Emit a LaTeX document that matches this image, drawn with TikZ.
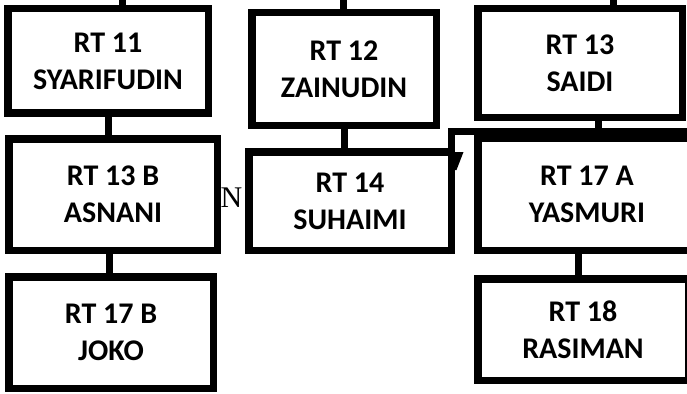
\documentclass[tikz,border=0pt]{standalone}
\usepackage{fontspec}
\setmainfont{Carlito}
\newfontfamily\serifN{Liberation Serif}
\begin{document}
\begin{tikzpicture}[x=1pt,y=-1pt,
  rtbox/.style={draw=black,line width=7.5pt,fill=white,inner sep=0pt,align=center,
    font=\fontsize{30}{37}\selectfont\bfseries},
  link/.style={draw=black,line width=7pt}]
\useasboundingbox (0,0) rectangle (687,393);
\begin{scope}
\clip (0,0) rectangle (687,393);
% stray letter behind boxes
\node[anchor=base,inner sep=0pt,font=\serifN\fontsize{30}{36}\selectfont] (nn) at (231.5,207) {N};
% boxes
\node[rtbox,minimum width=200.5pt,minimum height=104.5pt] (rt11) at (108,61) {RT 11\\SYARIFUDIN};
\node[rtbox,minimum width=184.5pt,minimum height=112.5pt] (rt12) at (344,69) {RT 12\\ZAINUDIN};
\node[rtbox,minimum width=204.5pt,minimum height=108.5pt] (rt13) at (580,63) {RT 13\\SAIDI};
\node[rtbox,minimum width=208.5pt,minimum height=111.5pt] (rt13b) at (113,194.5) {RT 13 B\\ASNANI};
\node[rtbox,minimum width=202.5pt,minimum height=98.5pt] (rt14) at (350,201) {RT 14\\SUHAIMI};
\node[rtbox,minimum width=218.5pt,minimum height=112.5pt] (rt17a) at (587,194) {RT 17 A\\YASMURI};
\node[rtbox,minimum width=204.5pt,minimum height=111.5pt] (rt17b) at (111,332.5) {RT 17 B\\JOKO};
\node[rtbox,minimum width=210.5pt,minimum height=101.5pt] (rt18) at (583,329.5) {RT 18\\RASIMAN};
% free ends
\coordinate (t11) at (122,0);
\coordinate (t12) at (343.5,0);
\coordinate (t13) at (613.5,0);
\coordinate (c1) at (108.5,0);
\coordinate (c2) at (109.5,0);
\coordinate (c3) at (344.5,0);
\coordinate (c4) at (598.5,0);
\coordinate (c5) at (578,0);
\coordinate (hl) at (451.5,131);
\coordinate (hr) at (700,131);
\coordinate (vb) at (451.5,254);
% connectors
\draw[link] (t11) -- (t11 |- rt11.north);
\draw[link] (t12) -- (t12 |- rt12.north);
\draw[link] (t13) -- (t13 |- rt13.north);
\draw[link] (c1 |- rt11.south) -- (c1 |- rt13b.north);
\draw[link] (c2 |- rt13b.south) -- (c2 |- rt17b.north);
\draw[link] (c3 |- rt12.south) -- (c3 |- rt14.north);
\draw[link] (c4 |- rt13.south) -- (c4 |- hr);
\draw[link] (c5 |- rt17a.south) -- (c5 |- rt18.north);
\draw[link,line join=miter] (vb) -- (hl) -- (hr);
% small wedge mark
\fill[black] (455,152) -- (463.5,152) -- (456.5,170) -- (454,170) -- cycle;
\end{scope}
\end{tikzpicture}
\end{document}
